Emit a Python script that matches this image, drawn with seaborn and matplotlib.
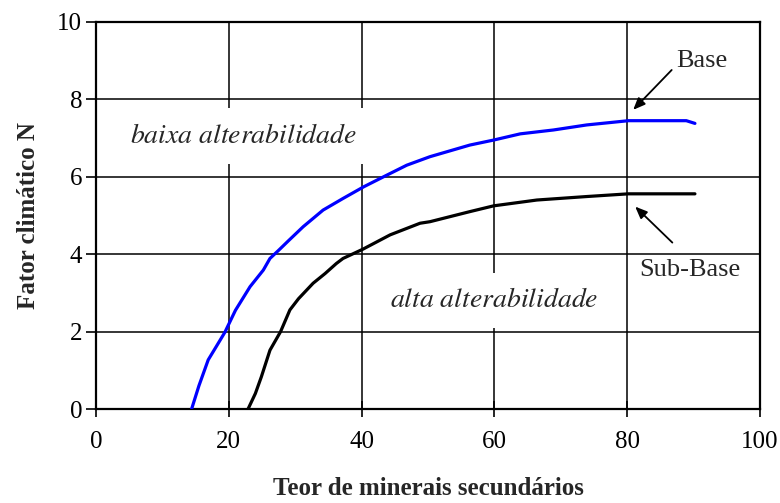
# Fator climatico N vs teor de minerais secundarios (Base / Sub-Base)

import matplotlib
matplotlib.use("Agg")
import matplotlib.pyplot as plt
import seaborn as sns

base_x = [14.4, 15.5, 16.9, 18.1, 19.4, 21.0, 23.2, 25.2, 26.2, 27.5, 29.0, 31.2, 34.2,
          37.2, 40.3, 43.3, 46.8, 50.3, 56.3, 59.9, 63.9, 68.9, 73.9, 80.2, 88.9, 90.2]
base_y = [0.0, 0.6, 1.27, 1.61, 1.98, 2.55, 3.16, 3.59, 3.89, 4.10, 4.35, 4.71, 5.14,
          5.44, 5.74, 6.00, 6.30, 6.52, 6.82, 6.95, 7.11, 7.21, 7.34, 7.45, 7.45, 7.38]

sub_x = [22.9, 24.0, 24.9, 26.2, 27.8, 29.2, 30.5, 32.7, 34.5, 36.2, 37.2, 40.2, 44.3,
         48.8, 50.3, 56.3, 59.9, 66.4, 73.9, 80.2, 90.2]
sub_y = [0.0, 0.4, 0.83, 1.52, 2.0, 2.56, 2.85, 3.25, 3.5, 3.76, 3.89, 4.13, 4.50,
         4.80, 4.84, 5.10, 5.25, 5.40, 5.49, 5.56, 5.56]

x_ticks = [0, 20, 40, 60, 80, 100]
y_ticks = [0, 2, 4, 6, 8, 10]

sns.set_theme(style="white")
plt.rcParams["font.family"] = ["Liberation Serif", "DejaVu Serif"]
plt.rcParams["mathtext.fontset"] = "stix"

fig = plt.figure(figsize=(7.8, 5.03), dpi=100)
ax = fig.add_axes([96 / 780, 1 - 409 / 503, 664 / 780, 387 / 503])

sns.lineplot(x=base_x, y=base_y, color="#0000FF", lw=2.3, ax=ax, sort=False, estimator=None, zorder=3)
sns.lineplot(x=sub_x, y=sub_y, color="black", lw=2.3, ax=ax, sort=False, estimator=None, zorder=3)

ax.set_xlim(0, 100)
ax.set_ylim(0, 10)
ax.set_xticks(x_ticks)
ax.set_yticks(y_ticks)
ax.grid(True, color="black", lw=1.1)
for s in ax.spines.values():
    s.set_color("black")
    s.set_linewidth(1.6)

ax.tick_params(axis="x", direction="inout", length=12, width=1.2, pad=10,
               labelsize=18, colors="black", bottom=True)
ax.tick_params(axis="y", direction="out", length=7, width=1.2, pad=3,
               labelsize=18, colors="black", left=True)

ax.set_xlabel("Teor de minerais secundários", fontsize=18, fontweight="bold", labelpad=17)
ax.set_ylabel("Fator climático N", fontsize=18, fontweight="bold", labelpad=12)

# italic region labels in a Times-like italic (STIX)
box = dict(boxstyle="square,pad=0.55", fc="white", ec="none")
ax.text(5.1, 7.05, r"$\mathit{baixa\ alterabilidade}$", fontsize=20,
        ha="left", va="center", bbox=box, zorder=2)
ax.text(44.3, 2.8, r"$\mathit{alta\ alterabilidade}$", fontsize=20,
        ha="left", va="center", bbox=box, zorder=2)

arrow = dict(arrowstyle="-|>,head_length=0.6,head_width=0.25", color="black", lw=1.3,
             shrinkA=0, shrinkB=0)
ax.annotate("", xy=(80.9, 7.73), xytext=(86.7, 8.76), arrowprops=arrow, zorder=4)
ax.text(87.4, 9.0, "Base", fontsize=19, ha="left", va="center")
ax.annotate("", xy=(81.2, 5.23), xytext=(86.8, 4.30), arrowprops=arrow, zorder=4)
ax.text(81.8, 3.59, "Sub-Base", fontsize=19, ha="left", va="center")

fig.savefig("out.png", dpi=100)
